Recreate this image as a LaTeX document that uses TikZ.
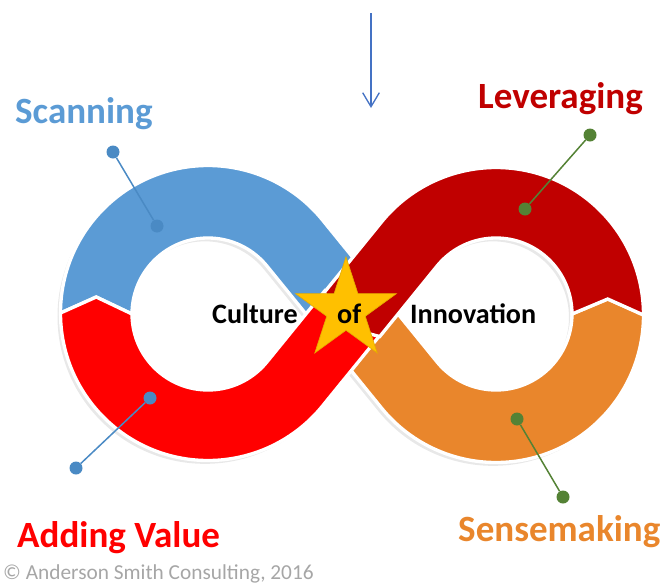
\documentclass[tikz,border=0pt]{standalone}
\usepackage{fontspec}
\setmainfont{Carlito}
\usetikzlibrary{shapes.geometric,calc,arrows.meta}

\definecolor{scanblue}{HTML}{5B9BD5}
\definecolor{dotblue}{HTML}{4A8AC4}
\definecolor{levred}{HTML}{C00000}
\definecolor{addred}{HTML}{FF0000}
\definecolor{senseorange}{HTML}{E9862C}
\definecolor{leafgreen}{HTML}{548235}
\definecolor{stargold}{HTML}{FFC000}
\definecolor{arrowblue}{HTML}{4472C4}
\definecolor{notegray}{HTML}{A6A6A6}

% the four pieces of the loop: radii 147.5/76, tangent at 39.1 deg
\newcommand{\scanband}{($(C1)+(180:147.5)$) arc[start angle=180,end angle=320.9,radius=147.5]
  -- ++(50.9:90.82) -- ($(M)+(140.9:35.75)$) -- ++(230.9:90.82)
  arc[start angle=320.9,end angle=180,radius=76] -- ($(C1)+(-111.75,-16)$) -- cycle}
\newcommand{\addband}{($(C1)+(180:147.5)$) arc[start angle=180,end angle=39.1,radius=147.5]
  -- ++(-50.9:90.82) -- ($(M)+(129.1:16)$) -- ($(M)+(219.1:35.75)$) -- ++(129.1:90.82)
  arc[start angle=39.1,end angle=180,radius=76] -- ($(C1)+(-111.75,-16)$) -- cycle}
\newcommand{\levband}{($(C2)+(0:147.5)$) arc[start angle=0,end angle=-140.9,radius=147.5]
  -- ++(129.1:90.82) -- ($(M)+(129.1:16)$) -- ($(M)+(39.1:35.75)$) -- ++(-50.9:90.82)
  arc[start angle=-140.9,end angle=0,radius=76] -- ($(C2)+(111.75,-16)$) -- cycle}
\newcommand{\senseband}{($(C2)+(0:147.5)$) arc[start angle=0,end angle=140.9,radius=147.5]
  -- ++(230.9:90.82) -- ($(M)+(-39.1:35.75)$) -- ++(50.9:90.82)
  arc[start angle=140.9,end angle=0,radius=76] -- ($(C2)+(111.75,-16)$) -- cycle}

\begin{document}
\begin{tikzpicture}
    [
    x=0.03cm, y=-0.03cm,
    band/.style={draw=white, line width=1mm, line join=miter},
    bandshadow/.style={fill=black!9, transform canvas={shift={(-0.09cm,-0.1cm)}}},
    dot/.style={circle, inner sep=0pt, minimum size=3.9mm},
    leader/.style={line width=0.45mm},
    title/.style={font=\fontsize{31.6}{36}\selectfont\bfseries, inner sep=0pt, anchor=base west},
    motto/.style={font=\fontsize{24}{28}\selectfont\bfseries, inner sep=0pt, anchor=base west}
    ]
    \useasboundingbox (0,0) rectangle (667,583);
    \coordinate (C1) at (208,313);
    \coordinate (C2) at (496,315);
    \coordinate (M) at (352,314);

    % soft shadow under the loop
    \fill[bandshadow] \scanband;
    \fill[bandshadow] \senseband;
    \fill[bandshadow] \addband;
    \fill[bandshadow] \levband;

    % lower strand first, then the strand that crosses over it
    \filldraw[band, fill=scanblue] \scanband;
    \filldraw[band, fill=senseorange] \senseband;
    \filldraw[band, fill=addred] \addband;
    \filldraw[band, fill=levred] \levband;

    % leader lines
    \node (scan1) at (113,152) [dot, fill=dotblue] {};
    \node (scan2) at (157,226) [dot, fill=dotblue] {};
    \node (lev1) at (590,135) [dot, fill=leafgreen] {};
    \node (lev2) at (525,209) [dot, fill=leafgreen] {};
    \node (add1) at (150,398) [dot, fill=dotblue] {};
    \node (add2) at (76,468) [dot, fill=dotblue] {};
    \node (sense1) at (517,419) [dot, fill=leafgreen] {};
    \node (sense2) at (563,497) [dot, fill=leafgreen] {};
    \draw [leader, dotblue] (scan1) -- (scan2);
    \draw [leader, leafgreen] (lev1) -- (lev2);
    \draw [leader, dotblue] (add1) -- (add2);
    \draw [leader, leafgreen] (sense1) -- (sense2);

    % labels
    \node (scanning) at (15,123) [title, text=scanblue] {Scanning};
    \node (leveraging) at (478,108) [title, text=levred] {Leveraging};
    \node (adding) at (17,547) [title, text=addred] {Adding Value};
    \node (sensemaking) at (458,541) [title, text=senseorange] {Sensemaking};

    % centre
    \node (star) at (346,310) [star, star points=5, star point ratio=2.618, minimum size=3.18cm,
      inner sep=0pt, fill=stargold, draw=stargold!90!black, line width=0.2mm] {};
    \node (culture) at (212,323) [motto] {Culture};
    \node (of) at (337,323) [motto] {of};
    \node (innovation) at (410,323) [motto] {Innovation};

    % arrow from above
    \coordinate (arrowtop) at (371,13);
    \coordinate (arrowend) at (371,108);
    \draw [arrowblue, line width=0.4mm, -{Straight Barb[length=4.2mm, width=5mm]}] (arrowtop) -- (arrowend);

    \node (note) at (3,579) [anchor=base west, inner sep=0pt, text=notegray,
      font=\fontsize{18.2}{20}\selectfont] {\textcopyright\ Anderson Smith Consulting, 2016};
\end{tikzpicture}
\end{document}
